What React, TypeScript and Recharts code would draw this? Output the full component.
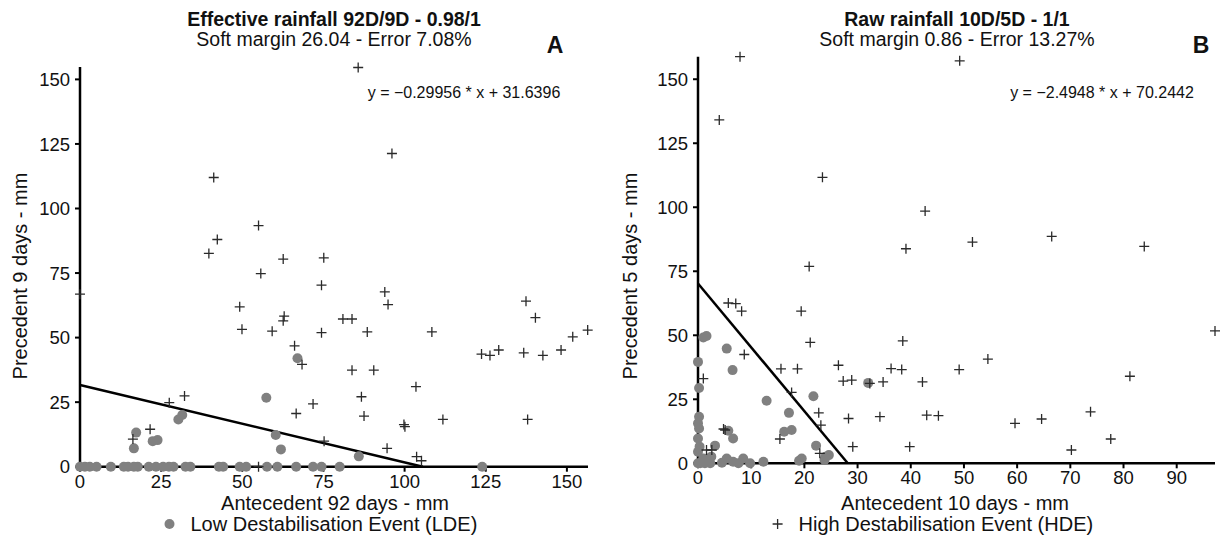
import { ReferenceLine, Scatter, ScatterChart, XAxis, YAxis } from "recharts";

const FONT = '"Liberation Sans", Arial, Helvetica, sans-serif';

// panel A : effective rainfall 92D / 9D
const ldeZeroA = [0, 1.5, 3, 5.1, 9.5, 13.5, 14.8, 16.6, 17.8, 21.2, 23.4, 25.6, 27.4, 28.8, 32.5, 34, 42.8, 44.1, 49.2, 51.2, 57.6, 60.8, 66.6, 71.8, 74.4, 80, 123.9];
const ldeA = [
  ...ldeZeroA.map((x) => ({ x, y: 0 })),
  { x: 16.6, y: 7.1 }, { x: 17.3, y: 13.2 }, { x: 22.4, y: 9.9 }, { x: 23.9, y: 10.3 },
  { x: 30.3, y: 18.3 }, { x: 31.5, y: 20 }, { x: 57.4, y: 26.7 }, { x: 60.3, y: 12.3 },
  { x: 61.9, y: 6.7 }, { x: 67, y: 42 }, { x: 85.9, y: 4 },
];
const hdeA = [
  { x: 0, y: 66.8 }, { x: 16.3, y: 10.7 }, { x: 21.6, y: 14.5 }, { x: 27.5, y: 24.8 }, { x: 32.2, y: 27.4 },
  { x: 39.7, y: 82.6 }, { x: 41.2, y: 112 }, { x: 42.3, y: 88 }, { x: 49.2, y: 61.9 }, { x: 49.9, y: 53.2 },
  { x: 55, y: 93.4 }, { x: 55, y: 0 }, { x: 55.7, y: 74.8 }, { x: 59.2, y: 52.5 }, { x: 62.6, y: 80.4 },
  { x: 62.9, y: 58.3 }, { x: 62.6, y: 56.5 }, { x: 66.1, y: 46.8 }, { x: 66.6, y: 20.6 }, { x: 68.4, y: 39.6 },
  { x: 71.8, y: 24.3 }, { x: 74.4, y: 70.3 }, { x: 74.4, y: 51.9 }, { x: 75.1, y: 80.9 }, { x: 75.2, y: 9.9 },
  { x: 81, y: 57.2 }, { x: 83.8, y: 57.2 }, { x: 83.8, y: 37.4 }, { x: 85.7, y: 154.6 }, { x: 86.7, y: 27.1 },
  { x: 87.5, y: 19.6 }, { x: 88.5, y: 52.2 }, { x: 90.5, y: 37.4 }, { x: 93.9, y: 67.7 }, { x: 94.6, y: 7.1 },
  { x: 94.9, y: 62.8 }, { x: 96.1, y: 121.3 }, { x: 99.8, y: 16.3 }, { x: 100.1, y: 15.5 }, { x: 103.5, y: 31 },
  { x: 103.7, y: 3.9 }, { x: 105.2, y: 2.3 }, { x: 108.4, y: 52.2 }, { x: 111.8, y: 18.3 }, { x: 123.7, y: 43.6 },
  { x: 126.3, y: 43.1 }, { x: 129, y: 45.2 }, { x: 136.7, y: 44.1 }, { x: 137.4, y: 64.1 }, { x: 137.9, y: 18.3 },
  { x: 140.3, y: 57.7 }, { x: 142.6, y: 43.1 }, { x: 148.2, y: 45.2 }, { x: 151.8, y: 50.3 }, { x: 156.4, y: 52.9 },
];

// panel B : raw rainfall 10D / 5D
const ldeB = [
  { x: 0, y: 0 }, { x: 0.4, y: 0 }, { x: 1, y: 1.9 }, { x: 1.3, y: 0 }, { x: 2, y: 1 }, { x: 2.3, y: 0 },
  { x: 4.5, y: 0.2 }, { x: 5.4, y: 1.9 }, { x: 6.6, y: 0.6 }, { x: 7.6, y: 0 }, { x: 8.5, y: 1.9 }, { x: 9.8, y: 0 },
  { x: 12.3, y: 0.6 }, { x: 19, y: 1 }, { x: 19.5, y: 1.9 }, { x: 23.8, y: 1.3 }, { x: 24.6, y: 3.2 }, { x: 24, y: 2.6 },
  { x: 22.2, y: 6.9 }, { x: 3.2, y: 6.9 }, { x: 0, y: 4.5 }, { x: 0.3, y: 6.5 }, { x: 2.5, y: 2.6 }, { x: 0, y: 9.7 },
  { x: 0.2, y: 13.6 }, { x: 0, y: 15.6 }, { x: 0.2, y: 18.2 }, { x: 0.2, y: 29.4 }, { x: 0, y: 39.6 }, { x: 1, y: 49.1 },
  { x: 1.6, y: 49.7 }, { x: 5.4, y: 44.8 }, { x: 6.5, y: 36.4 }, { x: 12.9, y: 24.4 }, { x: 17.1, y: 19.7 },
  { x: 16.2, y: 12.3 }, { x: 17.6, y: 13 }, { x: 21.7, y: 26.2 }, { x: 5.7, y: 12.7 }, { x: 6.6, y: 9.7 }, { x: 32, y: 31.4 },
];
const hdeB = [
  { x: 7.9, y: 158.8 }, { x: 4, y: 134.1 }, { x: 23.4, y: 111.7 }, { x: 39.1, y: 83.8 }, { x: 49.2, y: 157.2 },
  { x: 42.7, y: 98.5 }, { x: 51.6, y: 86.4 }, { x: 66.5, y: 88.6 }, { x: 83.9, y: 84.7 }, { x: 20.9, y: 76.9 },
  { x: 5.7, y: 62.6 }, { x: 7.1, y: 62.4 }, { x: 8.2, y: 59.4 }, { x: 19.4, y: 59.4 }, { x: 21.1, y: 47.2 },
  { x: 8.7, y: 42.5 }, { x: 1, y: 33.1 }, { x: 15.6, y: 36.9 }, { x: 18.7, y: 36.9 }, { x: 26.4, y: 38.3 },
  { x: 27.3, y: 32.1 }, { x: 28.9, y: 32.5 }, { x: 32.3, y: 31.2 }, { x: 34.8, y: 31.8 }, { x: 36.3, y: 37 },
  { x: 38.3, y: 36.6 }, { x: 38.5, y: 47.8 }, { x: 42.2, y: 31.8 }, { x: 17.6, y: 27.7 }, { x: 22.7, y: 19.7 },
  { x: 23.1, y: 14.9 }, { x: 15.4, y: 9.5 }, { x: 4.8, y: 13.4 }, { x: 5.1, y: 13 }, { x: 22.9, y: 3.9 },
  { x: 28.3, y: 17.5 }, { x: 34.2, y: 18.2 }, { x: 29.1, y: 6.5 }, { x: 39.8, y: 6.5 }, { x: 1.6, y: 5.2 },
  { x: 2.6, y: 5.2 }, { x: 43, y: 18.8 }, { x: 45.2, y: 18.6 }, { x: 49.1, y: 36.6 }, { x: 54.5, y: 40.7 },
  { x: 59.6, y: 15.6 }, { x: 64.6, y: 17.3 }, { x: 70.2, y: 5.2 }, { x: 73.8, y: 20.1 }, { x: 77.6, y: 9.5 },
  { x: 81.2, y: 34 }, { x: 97.2, y: 51.7 },
];

const titles = ["Effective rainfall 92D/9D - 0.98/1", "Raw rainfall 10D/5D - 1/1"];
const subtitles = ["Soft margin 26.04 - Error 7.08%", "Soft margin 0.86 - Error 13.27%"];
const letters = ["A", "B"];
const xLabels = ["Antecedent 92 days - mm", "Antecedent 10 days - mm"];
const yLabels = ["Precedent 9 days - mm", "Precedent 5 days - mm"];
const slopes = [-0.29956, -2.4948];
const intercepts = [31.6396, 70.2442];
const equations = ["y = \u22120.29956 * x + 31.6396", "y = \u22122.4948 * x + 70.2442"];
const xTicks = [[0, 25, 50, 75, 100, 125, 150], [0, 10, 20, 30, 40, 50, 60, 70, 80, 90]];
const yTicks = [0, 25, 50, 75, 100, 125, 150];
const legendNames = ["Low Destabilisation Event (LDE)", "High Destabilisation Event (HDE)"];

const panels = [
  { left: 0, plotLeft: 80, plotRight: 588, top: 67, zeroY: 466.7, xMax: 156.5, yMax: 154.8, lde: ldeA, hde: hdeA },
  { left: 610, plotLeft: 88, plotRight: 605, top: 56.7, zeroY: 463.3, xMax: 97.2, yMax: 158.7, lde: ldeB, hde: hdeB },
];
const labelPos = [
  { title: 334, letter: 555, eq: 464, yLab: 20, xLab: 335 },
  { title: 957, letter: 1201, eq: 1102, yLab: 630, xLab: 955 },
];

const GrayDot = (p: any) => <circle cx={p.cx} cy={p.cy} r={5} fill="#808080" />;
const Plus = (p: any) => (
  <path d={`M${p.cx - 5},${p.cy}H${p.cx + 5}M${p.cx},${p.cy - 5}V${p.cy + 5}`} stroke="#2a2a2a" strokeWidth={1.3} fill="none" />
);

function Txt({ x, y, size, bold, children, rotate, anchor = "center" }: any) {
  return (
    <div
      style={{
        position: "absolute",
        left: x,
        top: y,
        transform: `translate(${anchor === "left" ? "0" : "-50%"},-50%)${rotate ? " rotate(-90deg)" : ""}`,
        fontSize: size,
        fontWeight: bold ? 700 : 400,
        whiteSpace: "nowrap",
        lineHeight: 1,
      }}
    >
      {children}
    </div>
  );
}

function Panel({ i }: { i: number }) {
  const p = panels[i];
  const width = 610;
  return (
    <div style={{ position: "absolute", left: p.left, top: 0 }}>
      <ScatterChart
        width={width}
        height={537}
        margin={{ top: p.top, right: width - p.plotRight, left: 0, bottom: 537 - p.zeroY - 30 }}
      >
        <XAxis
          type="number"
          dataKey="x"
          domain={[0, p.xMax]}
          ticks={xTicks[i]}
          height={30}
          tickSize={5}
          tickMargin={3}
          axisLine={{ stroke: "#000", strokeWidth: 2.5 }}
          tickLine={{ stroke: "#000", strokeWidth: 2 }}
          tick={{ fill: "#111", fontSize: 18.5, fontFamily: FONT }}
        />
        <YAxis
          type="number"
          dataKey="y"
          domain={[0, p.yMax]}
          ticks={yTicks}
          width={p.plotLeft}
          tickSize={5}
          tickMargin={5}
          axisLine={{ stroke: "#000", strokeWidth: 2.5 }}
          tickLine={{ stroke: "#000", strokeWidth: 2 }}
          tick={{ fill: "#111", fontSize: 18.5, fontFamily: FONT }}
        />
        <Scatter data={p.lde} shape={GrayDot} isAnimationActive={false} />
        <Scatter data={p.hde} shape={Plus} isAnimationActive={false} />
        <ReferenceLine
          segment={[
            { x: 0, y: intercepts[i] },
            { x: -intercepts[i] / slopes[i], y: 0 },
          ]}
          stroke="#000"
          strokeWidth={2.5}
        />
      </ScatterChart>
    </div>
  );
}

export default function App() {
  return (
    <div
      style={{
        position: "absolute",
        left: 0,
        top: 0,
        width: 1220,
        height: 537,
        background: "#fff",
        fontFamily: FONT,
        color: "#111",
      }}
    >
      <Panel i={0} />
      <Panel i={1} />
      {labelPos.map((l, i) => (
        <div key={i}>
          <Txt x={l.title} y={19.5} size={19.5} bold>
            {titles[i]}
          </Txt>
          <Txt x={l.title} y={40.3} size={19.5}>
            {subtitles[i]}
          </Txt>
          <Txt x={l.letter} y={45} size={23} bold>
            {letters[i]}
          </Txt>
          <Txt x={l.eq} y={93} size={16}>
            {equations[i]}
          </Txt>
          <Txt x={l.yLab} y={276} size={20} rotate>
            {yLabels[i]}
          </Txt>
          <Txt x={l.xLab} y={503} size={20}>
            {xLabels[i]}
          </Txt>
        </div>
      ))}
      <svg style={{ position: "absolute", left: 0, top: 0 }} width={1220} height={537} pointerEvents="none">
        <circle cx={169.5} cy={524} r={5} fill="#808080" />
        <path d="M772.6,524H782.6M777.6,519V529" stroke="#2a2a2a" strokeWidth={1.3} />
      </svg>
      <Txt x={190.5} y={524} size={20} anchor="left">
        {legendNames[0]}
      </Txt>
      <Txt x={798.6} y={524} size={20} anchor="left">
        {legendNames[1]}
      </Txt>
    </div>
  );
}
